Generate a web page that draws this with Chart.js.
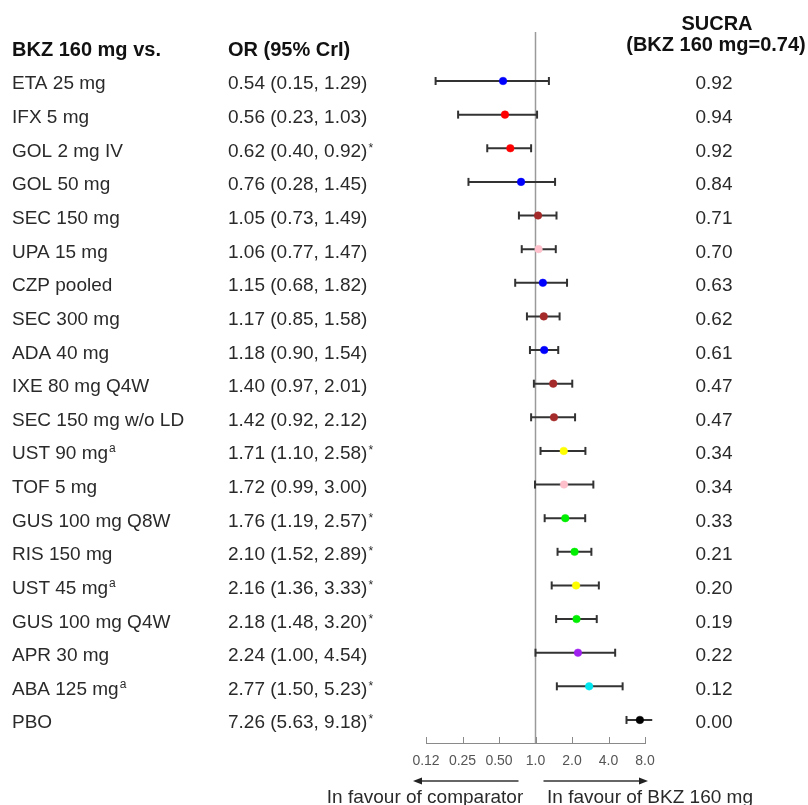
<!DOCTYPE html>
<html>
<head>
<meta charset="utf-8">
<script src="https://cdn.jsdelivr.net/npm/chart.js@4.4.1/dist/chart.umd.min.js"></script>
<style>
  html, body { margin: 0; padding: 0; background: #fff; }
  #wrap { position: relative; width: 808px; height: 805px; }
</style>
</head>
<body>
<div id="wrap"><canvas id="forest"></canvas></div>
<script>
// --- data ---
const treatments = ['ETA 25 mg', 'IFX 5 mg', 'GOL 2 mg IV', 'GOL 50 mg', 'SEC 150 mg', 'UPA 15 mg',
    'CZP pooled', 'SEC 300 mg', 'ADA 40 mg', 'IXE 80 mg Q4W', 'SEC 150 mg w/o LD', 'UST 90 mg^a',
    'TOF 5 mg', 'GUS 100 mg Q8W', 'RIS 150 mg', 'UST 45 mg^a', 'GUS 100 mg Q4W', 'APR 30 mg',
    'ABA 125 mg^a', 'PBO'];
const oddsRatio = [0.54, 0.56, 0.62, 0.76, 1.05, 1.06, 1.15, 1.17, 1.18, 1.40, 1.42, 1.71, 1.72, 1.76, 2.10, 2.16, 2.18, 2.24, 2.77, 7.26];
const lowerCrI = [0.15, 0.23, 0.40, 0.28, 0.73, 0.77, 0.68, 0.85, 0.90, 0.97, 0.92, 1.10, 0.99, 1.19, 1.52, 1.36, 1.48, 1.00, 1.50, 5.63];
const upperCrI = [1.29, 1.03, 0.92, 1.45, 1.49, 1.47, 1.82, 1.58, 1.54, 2.01, 2.12, 2.58, 3.00, 2.57, 2.89, 3.33, 3.20, 4.54, 5.23, 9.18];
const significant = [false, false, true, false, false, false, false, false, false, false, false, true,
    false, true, true, true, true, false, true, true];
const sucra = [0.92, 0.94, 0.92, 0.84, 0.71, 0.70, 0.63, 0.62, 0.61, 0.47, 0.47, 0.34, 0.34, 0.33, 0.21, 0.20, 0.19, 0.22, 0.12, 0.00];
const dotColors = ['#0000ff', '#ff0000', '#ff0000', '#0000ff', '#a52a2a', '#ffc0cb', '#0000ff', '#a52a2a',
    '#0000ff', '#a52a2a', '#a52a2a', '#ffff00', '#ffc0cb', '#00ee00', '#00ee00', '#ffff00', '#00ee00',
    '#a020f0', '#00e5ee', '#000000'];
const tickValues = [0.125, 0.25, 0.5, 1, 2, 4, 8];
const tickLabels = ['0.12', '0.25', '0.50', '1.0', '2.0', '4.0', '8.0'];

const FONT = '"Liberation Sans", Arial, Helvetica, sans-serif';
const TEXT = '#2a2a2a';

/* --- datasets built from the arrays --- */
const points = oddsRatio.map((v, i) => ({ x: v, y: i }));
const caps = [];
const ciLines = [];
treatments.forEach((_, i) => {
    caps.push({ x: lowerCrI[i], y: i }, { x: upperCrI[i], y: i });
    ciLines.push({ x: lowerCrI[i], y: i }, { x: upperCrI[i], y: i }, { x: upperCrI[i], y: null });
});

// text on an alphabetic baseline, with an optional small raised suffix
function richText(ctx, main, sup, x, base, size) {
    ctx.font = `${size}px ${FONT}`;
    ctx.fillText(main, x, base);
    if (!sup) return;
    const w = ctx.measureText(main).width;
    ctx.font = `12px ${FONT}`;
    const lift = sup === '*' ? 5 : 7;
    ctx.fillText(sup, x + w + 1, base - lift);
}

const forestDecor = {
    id: 'forestDecor',
    beforeDatasetsDraw(chart) {
        const { ctx, chartArea, scales: { x } } = chart;
        const x1 = x.getPixelForValue(1);
        ctx.save();
        ctx.strokeStyle = '#9a9a9a';
        ctx.lineWidth = 1.5;
        ctx.beginPath();
        ctx.moveTo(x1, chartArea.top);
        ctx.lineTo(x1, chartArea.bottom);
        ctx.stroke();
        ctx.restore();
    },
    afterDraw(chart) {
        const { ctx, chartArea, scales: { x, y } } = chart;
        ctx.save();

        // tick marks point upward from the axis line
        ctx.strokeStyle = '#8a8a8a';
        ctx.lineWidth = 1;
        tickValues.forEach(v => {
            const px = Math.round(x.getPixelForValue(v)) + 0.5;
            ctx.beginPath();
            ctx.moveTo(px, chartArea.bottom);
            ctx.lineTo(px, chartArea.bottom - 6);
            ctx.stroke();
        });

        // headers
        ctx.fillStyle = '#111';
        ctx.textBaseline = 'alphabetic';
        ctx.textAlign = 'left';
        const headBase = y.getPixelForValue(-1) + 8.5;
        ctx.font = `bold 20px ${FONT}`;
        ctx.fillText('BKZ 160 mg vs.', 12, headBase);
        ctx.fillText('OR (95% CrI)', 228, headBase);
        ctx.textAlign = 'center';
        ctx.fillText('SUCRA', 717, 29.5);
        ctx.fillText('(BKZ 160 mg=0.74)', 716, 51);

        // rows
        ctx.fillStyle = TEXT;
        treatments.forEach((name, i) => {
            const base = y.getPixelForValue(i) + 8.5;
            const [main, sup] = name.split('^');
            ctx.textAlign = 'left';
            richText(ctx, main, sup, 12, base, 19);
            const orText = `${oddsRatio[i].toFixed(2)} (${lowerCrI[i].toFixed(2)}, ${upperCrI[i].toFixed(2)})`;
            richText(ctx, orText, significant[i] ? '*' : '', 228, base, 19);
            ctx.textAlign = 'center';
            ctx.font = `19px ${FONT}`;
            ctx.fillText(sucra[i].toFixed(2), 714, base);
        });

        // direction arrows + captions
        const x1 = x.getPixelForValue(1);
        const ay = 781;
        const arrows = [
            [x1 - 17, x.getPixelForValue(tickValues[0]) - 13],
            [x1 + 8, x.getPixelForValue(tickValues[tickValues.length - 1]) + 3]
        ];
        ctx.strokeStyle = '#333';
        ctx.fillStyle = '#222';
        ctx.lineWidth = 1.3;
        arrows.forEach(([from, to]) => {
            const dir = Math.sign(to - from);
            ctx.beginPath();
            ctx.moveTo(from, ay);
            ctx.lineTo(to - dir * 6, ay);
            ctx.stroke();
            ctx.beginPath();
            ctx.moveTo(to, ay);
            ctx.lineTo(to - dir * 9, ay - 3.5);
            ctx.lineTo(to - dir * 9, ay + 3.5);
            ctx.closePath();
            ctx.fill();
        });
        ctx.fillStyle = TEXT;
        ctx.font = `19px ${FONT}`;
        ctx.textAlign = 'center';
        ctx.fillText('In favour of comparator', 425, 803);
        ctx.fillText('In favour of BKZ 160 mg', 650, 803);

        ctx.restore();
    }
};

new Chart(document.getElementById('forest').getContext('2d'), {
    type: 'scatter',
    data: {
        datasets: [
            {
                label: 'OR',
                data: points,
                pointRadius: 3.8,
                pointBackgroundColor: dotColors,
                pointBorderColor: dotColors,
                pointBorderWidth: 0.5,
                clip: false,
                order: 0
            },
            {
                label: 'CrI caps',
                data: caps,
                pointStyle: 'line',
                rotation: 90,
                pointRadius: 4,
                pointBorderWidth: 2,
                pointBorderColor: '#333',
                clip: false,
                order: 1
            },
            {
                label: 'CrI',
                type: 'line',
                data: ciLines,
                borderColor: '#333',
                borderWidth: 2,
                pointRadius: 0,
                spanGaps: false,
                clip: false,
                order: 2
            }
        ]
    },
    options: {
        animation: false,
        responsive: true,
        maintainAspectRatio: false,
        layout: { padding: { left: 426, right: 163, top: 32, bottom: 0 } },
        plugins: {
            legend: { display: false },
            tooltip: { enabled: false }
        },
        scales: {
            x: {
                type: 'logarithmic',
                min: 0.125,
                max: 8,
                afterBuildTicks: (scale) => { scale.ticks = tickValues.map(v => ({ value: v })); },
                afterFit: (scale) => { scale.height = 62; },
                grid: { display: false, drawTicks: false },
                border: { display: true, color: '#8a8a8a', width: 1 },
                ticks: {
                    autoSkip: false,
                    maxRotation: 0,
                    padding: 10,
                    color: '#555',
                    font: { family: FONT, size: 14 },
                    callback: (v, i) => tickLabels[i]
                }
            },
            y: {
                type: 'linear',
                display: false,
                reverse: true,
                min: -1.457,
                max: 19.685
            }
        }
    },
    plugins: [forestDecor]
});
</script>
</body>
</html>
